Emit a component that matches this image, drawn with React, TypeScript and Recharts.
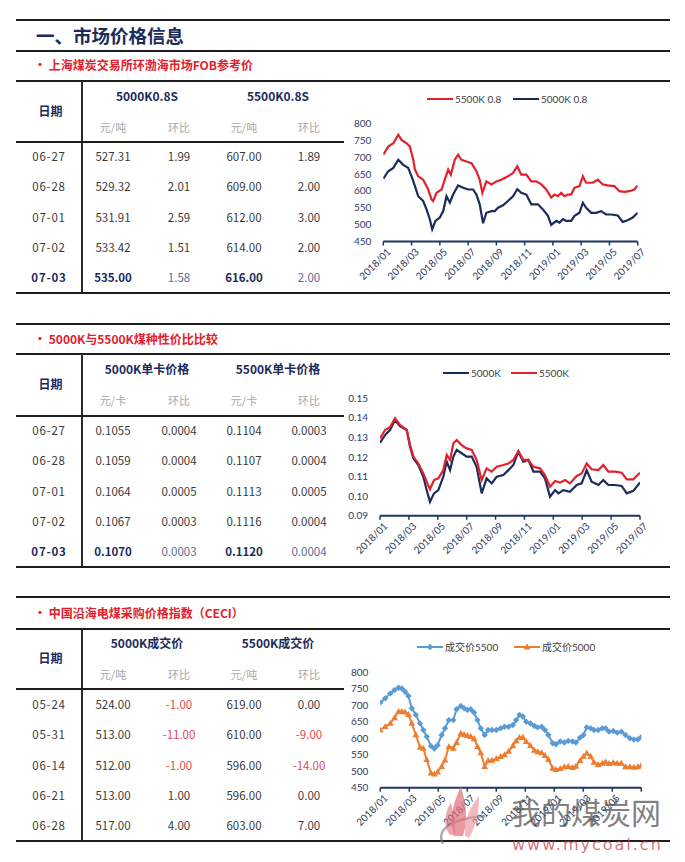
import React from "react";
import { LineChart, Line, XAxis, YAxis } from "recharts";

// ---------- chart data (x = months since 2018/01) ----------
const monthTicks = [0, 2, 4, 6, 8, 10, 12, 14, 16, 18];
const monthLabels = ["2018/01", "2018/03", "2018/05", "2018/07", "2018/09", "2018/11", "2019/01", "2019/03", "2019/05", "2019/07"];

const fob5500T = [0, 0.35, 0.71, 1.06, 1.29, 1.65, 1.88, 2.12, 2.24, 2.47, 2.82, 3.18, 3.41, 3.53, 3.76, 4.12, 4.35, 4.59, 4.78, 5.06, 5.29, 5.53, 5.88, 6.24, 6.59, 6.82, 7.01, 7.29, 7.65, 8.0, 8.35, 8.82, 9.18, 9.48, 9.76, 10.12, 10.47, 10.82, 11.18, 11.53, 11.88, 12.12, 12.35, 12.59, 12.82, 13.06, 13.29, 13.53, 13.88, 14.12, 14.35, 14.82, 15.18, 15.53, 15.88, 16.35, 16.71, 17.06, 17.41, 17.76, 18.0];
const fob5500V = [707, 731, 741, 766, 751, 741, 731, 692, 663, 643, 633, 604, 575, 570, 594, 604, 633, 663, 648, 692, 707, 692, 687, 682, 658, 633, 594, 628, 619, 628, 633, 643, 653, 673, 648, 648, 628, 628, 619, 604, 580, 589, 584, 594, 584, 589, 589, 609, 614, 643, 624, 624, 633, 619, 616, 614, 599, 597, 599, 604, 616];
const fob5000T = [0, 0.35, 0.71, 1.06, 1.41, 1.76, 2.0, 2.24, 2.47, 2.82, 3.06, 3.29, 3.46, 3.69, 4.0, 4.24, 4.47, 4.71, 4.94, 5.29, 5.65, 6.0, 6.35, 6.59, 6.82, 7.06, 7.29, 7.65, 7.88, 8.12, 8.47, 8.82, 9.18, 9.48, 9.76, 10.12, 10.47, 10.94, 11.29, 11.65, 11.88, 12.24, 12.47, 12.71, 12.94, 13.29, 13.53, 13.88, 14.12, 14.35, 14.71, 15.06, 15.41, 15.76, 16.12, 16.59, 16.94, 17.29, 17.65, 18.0];
const fob5000V = [636, 658, 668, 692, 677, 668, 643, 614, 584, 570, 545, 516, 486, 511, 521, 540, 584, 565, 589, 616, 609, 604, 604, 589, 560, 504, 535, 540, 540, 550, 557, 570, 584, 605, 594, 589, 560, 560, 545, 526, 499, 511, 506, 516, 511, 511, 526, 535, 565, 550, 535, 535, 540, 530, 530, 527, 508, 513, 521, 535];

const unit5500T = [0, 0.35, 0.69, 1.04, 1.38, 1.85, 2.08, 2.31, 2.65, 3.0, 3.28, 3.46, 3.74, 4.04, 4.38, 4.62, 4.85, 5.08, 5.31, 5.65, 6.0, 6.35, 6.69, 7.04, 7.38, 7.73, 8.08, 8.54, 8.89, 9.23, 9.58, 9.92, 10.27, 10.62, 11.08, 11.42, 11.77, 12.12, 12.46, 12.81, 13.15, 13.62, 13.96, 14.31, 14.65, 15.12, 15.46, 15.81, 16.27, 16.73, 17.08, 17.54, 18.0];
const unit5500V = [0.1295, 0.1338, 0.1352, 0.1398, 0.1364, 0.1338, 0.1261, 0.1202, 0.1167, 0.1116, 0.1065, 0.1035, 0.1082, 0.1091, 0.1133, 0.121, 0.1185, 0.127, 0.1287, 0.1261, 0.1244, 0.1236, 0.1185, 0.1082, 0.1142, 0.1125, 0.115, 0.1159, 0.1167, 0.1185, 0.1231, 0.1185, 0.1185, 0.115, 0.1142, 0.1108, 0.1048, 0.1077, 0.1069, 0.1082, 0.1065, 0.1103, 0.1116, 0.1167, 0.1137, 0.1133, 0.1159, 0.1125, 0.1125, 0.112, 0.1086, 0.1086, 0.112];
const unit5000T = [0, 0.35, 0.69, 1.04, 1.38, 1.85, 2.08, 2.31, 2.65, 3.0, 3.23, 3.46, 3.74, 4.04, 4.38, 4.62, 4.85, 5.08, 5.31, 5.65, 6.0, 6.35, 6.69, 7.04, 7.38, 7.73, 8.08, 8.54, 8.89, 9.23, 9.58, 9.92, 10.27, 10.62, 11.08, 11.42, 11.77, 12.12, 12.35, 12.69, 13.15, 13.62, 13.96, 14.31, 14.65, 15.12, 15.46, 15.81, 16.27, 16.73, 17.08, 17.54, 18.0];
const unit5000V = [0.1273, 0.1312, 0.1338, 0.1389, 0.1358, 0.1338, 0.1253, 0.1193, 0.1159, 0.1099, 0.1031, 0.0971, 0.1014, 0.1031, 0.1099, 0.1176, 0.1133, 0.1202, 0.1236, 0.1219, 0.1202, 0.1202, 0.115, 0.1014, 0.1091, 0.1065, 0.1099, 0.1108, 0.1133, 0.1159, 0.1227, 0.1176, 0.1185, 0.1125, 0.1125, 0.1091, 0.0997, 0.1031, 0.1014, 0.1031, 0.1022, 0.1057, 0.1065, 0.1133, 0.1074, 0.1057, 0.1082, 0.1057, 0.1057, 0.1052, 0.1014, 0.1027, 0.107];

const ceciT = [0, 0.34, 0.69, 0.98, 1.26, 1.49, 1.71, 1.94, 2.17, 2.45, 2.74, 2.97, 3.2, 3.5, 3.73, 3.95, 4.23, 4.46, 4.73, 5.03, 5.26, 5.55, 5.78, 6.01, 6.24, 6.47, 6.7, 6.93, 7.2, 7.43, 7.7, 8.0, 8.3, 8.57, 8.85, 9.14, 9.37, 9.6, 9.83, 10.06, 10.35, 10.63, 10.86, 11.13, 11.36, 11.59, 11.89, 12.11, 12.41, 12.69, 12.96, 13.26, 13.49, 13.78, 14.01, 14.24, 14.51, 14.74, 15.02, 15.31, 15.54, 15.77, 16.07, 16.34, 16.62, 16.91, 17.21, 17.49, 17.76, 17.99];
const ceci5500 = [708, 721, 736, 746, 753, 751, 741, 728, 691, 671, 645, 625, 605, 576, 569, 579, 610, 630, 655, 655, 688, 698, 691, 686, 688, 678, 655, 630, 610, 625, 625, 625, 630, 635, 635, 640, 655, 671, 666, 650, 645, 637, 633, 635, 625, 610, 585, 582, 590, 587, 592, 590, 587, 602, 610, 633, 630, 625, 625, 630, 630, 620, 622, 617, 620, 610, 600, 596, 596, 603];
const ceci5000 = [625, 635, 645, 662, 681, 681, 679, 672, 645, 610, 572, 569, 535, 494, 491, 497, 514, 534, 575, 569, 587, 615, 611, 608, 605, 598, 575, 556, 514, 532, 533, 538, 544, 550, 560, 577, 592, 602, 603, 590, 578, 563, 559, 556, 547, 536, 509, 505, 508, 513, 514, 511, 515, 532, 545, 554, 545, 527, 520, 524, 528, 523, 526, 524, 524, 513, 513, 512, 513, 517];

// ---------- table data ----------
const t1Dates = ["06-27", "06-28", "07-01", "07-02", "07-03"];
const t1P5000 = ["527.31", "529.32", "531.91", "533.42", "535.00"];
const t1C5000 = ["1.99", "2.01", "2.59", "1.51", "1.58"];
const t1P5500 = ["607.00", "609.00", "612.00", "614.00", "616.00"];
const t1C5500 = ["1.89", "2.00", "3.00", "2.00", "2.00"];

const t2Dates = ["06-27", "06-28", "07-01", "07-02", "07-03"];
const t2P5000 = ["0.1055", "0.1059", "0.1064", "0.1067", "0.1070"];
const t2C5000 = ["0.0004", "0.0004", "0.0005", "0.0003", "0.0003"];
const t2P5500 = ["0.1104", "0.1107", "0.1113", "0.1116", "0.1120"];
const t2C5500 = ["0.0003", "0.0004", "0.0005", "0.0004", "0.0004"];

const t3Dates = ["05-24", "05-31", "06-14", "06-21", "06-28"];
const t3P5000 = ["524.00", "513.00", "512.00", "513.00", "517.00"];
const t3C5000 = ["-1.00", "-11.00", "-1.00", "1.00", "4.00"];
const t3P5500 = ["619.00", "610.00", "596.00", "596.00", "603.00"];
const t3C5500 = ["0.00", "-9.00", "-14.00", "0.00", "7.00"];

// ---------- styles ----------
const NAVY = "#1b2b5c";
const RED = "#e3202b";
const AXIS = "#1f3564";
const BLUE = "#5b9bd5";
const ORANGE = "#ed7d31";
const CJK = "'Noto Sans CJK SC', 'Noto Sans', sans-serif";
const CHARTFONT = "Lato, 'Noto Sans CJK SC', sans-serif";

const zip = (t: number[], v: number[]) => t.map((x, i) => ({ t: x, v: v[i] }));

function RotTick(props: any) {
  const { x, y, payload, hideLast } = props;
  const idx = monthTicks.indexOf(payload.value);
  if (idx < 0) return null;
  if (hideLast && idx === monthTicks.length - 1) return null;
  return (
    <g transform={`translate(${x + 3},${y}) rotate(-45)`}>
      <text x={0} y={0} dy="0.72em" textAnchor="end" fontSize={10} fill="#2b3a5e" fontFamily={CHARTFONT}>
        {monthLabels[idx]}
      </text>
    </g>
  );
}

const Diamond = (props: any) => {
  const { cx, cy } = props;
  if (cx == null || cy == null) return null;
  return <path d={`M${cx},${cy - 3.2} L${cx + 3.2},${cy} L${cx},${cy + 3.2} L${cx - 3.2},${cy} Z`} fill={BLUE} />;
};
const Tri = (props: any) => {
  const { cx, cy } = props;
  if (cx == null || cy == null) return null;
  return <path d={`M${cx},${cy - 3.6} L${cx + 3.4},${cy + 2.4} L${cx - 3.4},${cy + 2.4} Z`} fill={ORANGE} />;
};

function HLine({ y, x1, x2, w = 2 }: { y: number; x1: number; x2: number; w?: number }) {
  return <div style={{ position: "absolute", left: x1, top: y - w / 2, width: x2 - x1, height: w, background: "#1e1e1e" }} />;
}
function VLine({ x, y1, y2 }: { x: number; y1: number; y2: number }) {
  return <div style={{ position: "absolute", left: x - 0.75, top: y1, width: 1.5, height: y2 - y1, background: "#2a2a2a" }} />;
}
function T({ x, y, children, style }: { x: number; y: number; children: any; style?: any }) {
  return (
    <div
      style={{
        position: "absolute",
        left: x,
        top: y,
        transform: "translate(-50%,-50%)",
        whiteSpace: "nowrap",
        lineHeight: 1,
        fontFamily: CJK,
        fontSize: 11.5,
        color: "#3a3a3a",
        ...style,
      }}
    >
      {children}
    </div>
  );
}

const COLS = [49, 113, 179, 244, 309];

function Table(props: {
  top: number; groupY: number; dateY: number; subY: number; headLine: number; row0: number; bottom: number;
  g1: string; g2: string; unit: string;
  dates: string[]; p1: string[]; c1: string[]; p2: string[]; c2: string[];
  boldLast?: boolean; redNeg?: boolean;
}) {
  const step = 30.3;
  const sub = { color: "#a8a8a8", fontSize: 11 };
  const head = { color: NAVY, fontWeight: 700, fontSize: 12 };
  return (
    <>
      <HLine y={props.top} x1={16} x2={670} />
      <VLine x={82} y1={props.top} y2={props.bottom} />
      <HLine y={props.headLine} x1={16} x2={344} />
      <HLine y={props.bottom} x1={16} x2={670} />
      <T x={50.5} y={props.dateY} style={head}>日期</T>
      <T x={147} y={props.groupY} style={head}>{props.g1}</T>
      <T x={278} y={props.groupY} style={head}>{props.g2}</T>
      <T x={COLS[1]} y={props.subY} style={sub}>{props.unit}</T>
      <T x={COLS[2]} y={props.subY} style={sub}>环比</T>
      <T x={COLS[3]} y={props.subY} style={sub}>{props.unit}</T>
      <T x={COLS[4]} y={props.subY} style={sub}>环比</T>
      {props.dates.map((d, i) => {
        const y = props.row0 + i * step;
        const last = props.boldLast && i === props.dates.length - 1;
        const b = last ? { fontWeight: 700, color: NAVY } : {};
        const soft = last ? { color: "#5a6b98" } : {};
        const neg = (s: string) => (props.redNeg && s.startsWith("-") ? { color: "#e0484d" } : {});
        return (
          <React.Fragment key={d}>
            <T x={COLS[0]} y={y} style={{ letterSpacing: 0.8, ...b }}>{d}</T>
            <T x={COLS[1]} y={y} style={b}>{props.p1[i]}</T>
            <T x={COLS[2]} y={y} style={{ ...soft, ...neg(props.c1[i]) }}>{props.c1[i]}</T>
            <T x={COLS[3]} y={y} style={b}>{props.p2[i]}</T>
            <T x={COLS[4]} y={y} style={{ ...soft, ...neg(props.c2[i]) }}>{props.c2[i]}</T>
          </React.Fragment>
        );
      })}
    </>
  );
}

function LegendItem({ x, y, color, label, marker }: { x: number; y: number; color: string; label: string; marker?: "d" | "t" }) {
  return (
    <div style={{ position: "absolute", left: x, top: y - 6, height: 12, display: "flex", alignItems: "center", whiteSpace: "nowrap" }}>
      <svg width={26} height={10} style={{ display: "block" }}>
        <line x1={0} y1={5} x2={26} y2={5} stroke={color} strokeWidth={2} />
        {marker === "d" && <path d="M13,1.8 L16.2,5 L13,8.2 L9.8,5 Z" fill={color} />}
        {marker === "t" && <path d="M13,1.4 L16.4,7.4 L9.6,7.4 Z" fill={color} />}
      </svg>
      <span style={{ marginLeft: 2, fontSize: 10, color: "#404040", fontFamily: CHARTFONT, lineHeight: 1 }}>{label}</span>
    </div>
  );
}

const yTickStyle = { fontSize: 10, fill: "#2b3a5e", fontFamily: CHARTFONT };

export default function App() {
  const xAxisProps: any = {
    dataKey: "t",
    type: "number",
    domain: [0, 18],
    ticks: monthTicks,
    interval: 0,
    allowDataOverflow: true,
    axisLine: { stroke: AXIS, strokeWidth: 2 },
    tickLine: { stroke: AXIS, strokeWidth: 1.5 },
    tickSize: 4,
    tickMargin: 2,
    height: 50,
  };
  return (
    <div style={{ position: "absolute", left: 0, top: 0, width: 685, height: 862, background: "#fff", overflow: "hidden" }}>
      {/* title */}
      <HLine y={20} x1={16} x2={670} />
      <div style={{ position: "absolute", left: 36, top: 25, fontFamily: CJK, fontWeight: 700, fontSize: 18.5, color: NAVY, lineHeight: 1.1 }}>
        一、市场价格信息
      </div>
      <HLine y={51} x1={16} x2={670} />
      <div style={{ position: "absolute", left: 34, top: 58, fontFamily: CJK, fontWeight: 700, fontSize: 12, color: RED, lineHeight: 1.2, whiteSpace: "nowrap" }}>
        • 上海煤炭交易所环渤海市场FOB参考价
      </div>

      <Table top={81} groupY={96} dateY={110.7} subY={127} headLine={142} row0={157} bottom={293}
        g1="5000K0.8S" g2="5500K0.8S" unit="元/吨"
        dates={t1Dates} p1={t1P5000} c1={t1C5000} p2={t1P5500} c2={t1C5500} boldLast />

      {/* chart 1 */}
      <LegendItem x={427} y={99} color={RED} label="5500K 0.8" />
      <LegendItem x={513} y={99} color={NAVY} label="5000K 0.8" />
      <div style={{ position: "absolute", left: 340, top: 80 }}>
        <LineChart width={340} height={220} margin={{ top: 43.3, right: 42.3, bottom: 8.5, left: 13.3 }}>
          <XAxis {...xAxisProps} tick={<RotTick />} />
          <YAxis type="number" domain={[450, 800]} ticks={[450, 500, 550, 600, 650, 700, 750, 800]} axisLine={false} tickLine={false} tickSize={6} tickMargin={6} width={30} tick={yTickStyle} />
          <Line data={zip(fob5500T, fob5500V)} dataKey="v" stroke={RED} strokeWidth={2.2} dot={false} isAnimationActive={false} />
          <Line data={zip(fob5000T, fob5000V)} dataKey="v" stroke={NAVY} strokeWidth={2.2} dot={false} isAnimationActive={false} />
        </LineChart>
      </div>

      {/* section 2 */}
      <HLine y={324} x1={16} x2={670} />
      <div style={{ position: "absolute", left: 34, top: 332, fontFamily: CJK, fontWeight: 700, fontSize: 12, color: RED, lineHeight: 1.2, whiteSpace: "nowrap" }}>
        • 5000K与5500K煤种性价比比较
      </div>
      <Table top={354} groupY={369} dateY={384} subY={400} headLine={416} row0={431} bottom={567}
        g1="5000K单卡价格" g2="5500K单卡价格" unit="元/卡"
        dates={t2Dates} p1={t2P5000} c1={t2C5000} p2={t2P5500} c2={t2C5500} boldLast />

      <LegendItem x={443} y={373} color={NAVY} label="5000K" />
      <LegendItem x={511} y={373} color={RED} label="5500K" />
      <div style={{ position: "absolute", left: 340, top: 355 }}>
        <LineChart width={340} height={215} margin={{ top: 43.3, right: 40, bottom: 4.3, left: 10 }}>
          <XAxis {...xAxisProps} tick={<RotTick />} />
          <YAxis type="number" domain={[0.09, 0.15]} ticks={[0.09, 0.1, 0.11, 0.12, 0.13, 0.14, 0.15]} tickFormatter={(v: number) => v.toFixed(2)} axisLine={false} tickLine={false} tickSize={6} tickMargin={6} width={30} tick={yTickStyle} />
          <Line data={zip(unit5000T, unit5000V)} dataKey="v" stroke={NAVY} strokeWidth={2.2} dot={false} isAnimationActive={false} />
          <Line data={zip(unit5500T, unit5500V)} dataKey="v" stroke={RED} strokeWidth={2.2} dot={false} isAnimationActive={false} />
        </LineChart>
      </div>

      {/* section 3 */}
      <HLine y={597} x1={16} x2={670} />
      <div style={{ position: "absolute", left: 34, top: 606, fontFamily: CJK, fontWeight: 700, fontSize: 12, color: RED, lineHeight: 1.2, whiteSpace: "nowrap" }}>
        • 中国沿海电煤采购价格指数（CECI）
      </div>
      <Table top={629} groupY={643} dateY={658} subY={674} headLine={689} row0={705} bottom={841}
        g1="5000K成交价" g2="5500K成交价" unit="元/吨"
        dates={t3Dates} p1={t3P5000} c1={t3C5000} p2={t3P5500} c2={t3C5500} redNeg />

      <LegendItem x={417} y={647} color={BLUE} label="成交价5500" marker="d" />
      <LegendItem x={514} y={647} color={ORANGE} label="成交价5000" marker="t" />
      <div style={{ position: "absolute", left: 340, top: 628 }}>
        <LineChart width={340} height={215} margin={{ top: 44.3, right: 38.7, bottom: 5.3, left: 10.3 }}>
          <XAxis {...xAxisProps} tick={<RotTick hideLast />} />
          <YAxis type="number" domain={[450, 800]} ticks={[450, 500, 550, 600, 650, 700, 750, 800]} axisLine={false} tickLine={false} tickSize={6} tickMargin={6} width={30} tick={yTickStyle} />
          <Line data={zip(ceciT, ceci5500)} dataKey="v" stroke={BLUE} strokeWidth={2} dot={<Diamond />} isAnimationActive={false} />
          <Line data={zip(ceciT, ceci5000)} dataKey="v" stroke={ORANGE} strokeWidth={2} dot={<Tri />} isAnimationActive={false} />
        </LineChart>
      </div>

      {/* watermark */}
      <svg width={90} height={75} style={{ position: "absolute", left: 425, top: 778 }}>
        <path d="M18,66 C10,50 30,40 60,38" fill="none" stroke="rgba(120,120,120,0.6)" strokeWidth={2.5} />
        <path d="M30,58 C22,40 30,22 36,8 C40,24 44,38 38,58 Z" fill="rgba(225,110,120,0.7)" />
        <path d="M40,58 C38,42 46,28 54,18 C54,34 52,46 44,60 Z" fill="rgba(230,140,150,0.6)" />
        <path d="M24,56 C18,46 20,34 26,24 C28,36 30,46 30,58 Z" fill="rgba(220,100,110,0.55)" />
      </svg>
      <div style={{ position: "absolute", left: 511, top: 796, fontFamily: CJK, fontSize: 30, color: "rgba(80,80,80,0.72)", lineHeight: 1, whiteSpace: "nowrap" }}>
        我的煤炭网
      </div>
      <div style={{ position: "absolute", left: 512, top: 837, fontFamily: "'DejaVu Sans', sans-serif", fontSize: 16, letterSpacing: 2, color: "rgba(205,55,65,0.72)", lineHeight: 1, whiteSpace: "nowrap" }}>
        www.mycoal.cn
      </div>
    </div>
  );
}
